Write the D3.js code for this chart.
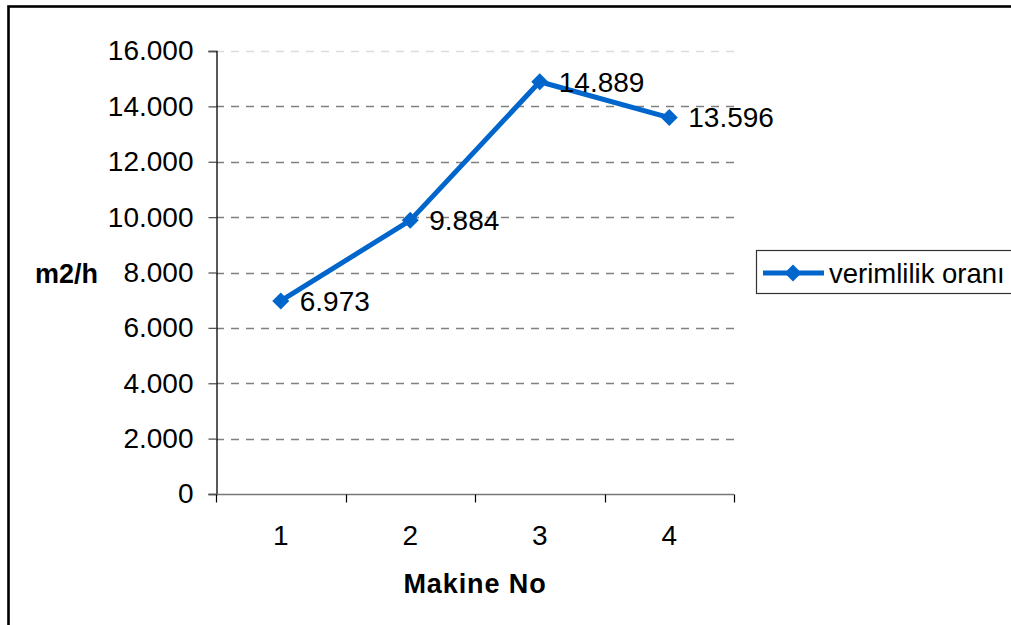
<!DOCTYPE html>
<html>
<head>
<meta charset="utf-8">
<script src="https://cdn.jsdelivr.net/npm/d3@7"></script>
<style>
  html, body { margin: 0; padding: 0; background: #fff; overflow: hidden; }
  svg { display: block; font-family: "Liberation Sans", Arial, sans-serif; }
</style>
</head>
<body>
<svg id="chart" width="1011" height="625"></svg>
<script>
// Machine numbers and productivity (m2/h)
const machines = ["1", "2", "3", "4"];
const productivity = [6973, 9884, 14889, 13596];
const productivityLabels = ["6.973", "9.884", "14.889", "13.596"];
const yTicks = [0, 2000, 4000, 6000, 8000, 10000, 12000, 14000, 16000];
const yTickLabels = ["0", "2.000", "4.000", "6.000", "8.000", "10.000", "12.000", "14.000", "16.000"];
const seriesName = "verimlilik oranı";
const xTitle = "Makine No";
const yTitle = "m2/h";

const svg = d3.select("#chart");
const plot = { left: 216, right: 734, top: 51, bottom: 494 };
const blue = "#0066CC";
const fs = 28;

// outer frame (runs past the right and bottom edge)
svg.append("rect")
  .attr("x", 8.5).attr("y", 6.5)
  .attr("width", 1100).attr("height", 700)
  .attr("fill", "none").attr("stroke", "#000").attr("stroke-width", 2.6);

const x = d3.scaleBand().domain(machines).range([plot.left, plot.right]).padding(0);
const y = d3.scaleLinear().domain([0, 16000]).range([plot.bottom, plot.top]);

// horizontal dashed gridlines
svg.append("g").selectAll("line")
  .data(yTicks.filter(v => v > 0))
  .join("line")
  .attr("x1", plot.left).attr("x2", plot.right)
  .attr("y1", d => Math.round(y(d)) + 0.5).attr("y2", d => Math.round(y(d)) + 0.5)
  .attr("stroke", d => d === 16000 ? "#dcdcdc" : "#808080")
  .attr("stroke-width", 1.3)
  .attr("stroke-dasharray", "8,7");

// y axis
const yAxis = svg.append("g")
  .attr("transform", `translate(${plot.left + 0.5},0)`)
  .call(d3.axisLeft(y).tickValues(yTicks)
    .tickFormat((d, i) => yTickLabels[i]).tickSize(8).tickPadding(15));
yAxis.select(".domain").attr("stroke", "#000").attr("stroke-width", 1.3);
yAxis.selectAll(".tick line").attr("stroke", "#555").attr("stroke-width", 1.3);
yAxis.selectAll(".tick text")
  .attr("font-size", fs).attr("fill", "#000")
  .attr("font-family", "Liberation Sans, Arial, sans-serif");

// x axis with tick marks at the category boundaries
const xAxisG = svg.append("g").attr("transform", `translate(0,${plot.bottom + 0.5})`);
xAxisG.append("line")
  .attr("x1", plot.left).attr("x2", plot.right)
  .attr("stroke", "#777").attr("stroke-width", 1.6);
const boundaries = machines.map(m => x(m)).concat([x(machines[machines.length - 1]) + x.bandwidth()]);
xAxisG.selectAll("line.bt")
  .data(boundaries)
  .join("line")
  .attr("class", "bt")
  .attr("x1", d => Math.round(d) + 0.5).attr("x2", d => Math.round(d) + 0.5)
  .attr("y1", 0).attr("y2", 8)
  .attr("stroke", "#000").attr("stroke-width", 1.2);
xAxisG.selectAll("text")
  .data(machines)
  .join("text")
  .attr("x", d => x(d) + x.bandwidth() / 2)
  .attr("y", 50)
  .attr("text-anchor", "middle")
  .attr("font-size", fs)
  .text(d => d);

// axis titles
svg.append("text")
  .attr("x", (plot.left + plot.right) / 2).attr("y", 593)
  .attr("text-anchor", "middle")
  .attr("font-size", 27).attr("font-weight", "bold")
  .attr("letter-spacing", 0.9)
  .text(xTitle);
svg.append("text")
  .attr("x", 35).attr("y", 283)
  .attr("font-size", 27).attr("font-weight", "bold")
  .text(yTitle);

// series line
const pts = machines.map((m, i) => ({ m, v: productivity[i], label: productivityLabels[i] }));
const cx = d => x(d.m) + x.bandwidth() / 2;
svg.append("path")
  .datum(pts)
  .attr("d", d3.line().x(cx).y(d => y(d.v)))
  .attr("fill", "none").attr("stroke", blue)
  .attr("stroke-width", 5).attr("stroke-linejoin", "round");

const diamond = "M0,-8.5L8.5,0L0,8.5L-8.5,0Z";
svg.append("g").selectAll("path")
  .data(pts)
  .join("path")
  .attr("transform", d => `translate(${cx(d)},${y(d.v)})`)
  .attr("d", diamond)
  .attr("fill", blue);

// value labels to the right of each point
svg.append("g").selectAll("text")
  .data(pts)
  .join("text")
  .attr("x", d => cx(d) + 19)
  .attr("y", d => y(d.v))
  .attr("dy", "0.35em")
  .attr("font-size", fs)
  .attr("fill", "#000")
  .text(d => d.label);

// legend
const lg = svg.append("g");
lg.append("rect")
  .attr("x", 756.5).attr("y", 250.5).attr("width", 300).attr("height", 43)
  .attr("fill", "#fff").attr("stroke", "#333").attr("stroke-width", 1.2);
lg.append("line")
  .attr("x1", 763).attr("x2", 824).attr("y1", 273).attr("y2", 273)
  .attr("stroke", blue).attr("stroke-width", 5);
lg.append("path")
  .attr("transform", "translate(793,273)")
  .attr("d", diamond).attr("fill", blue);
lg.append("text")
  .attr("x", 829).attr("y", 273).attr("dy", "0.35em")
  .attr("font-size", 27.5)
  .text(seriesName);
</script>
</body>
</html>
